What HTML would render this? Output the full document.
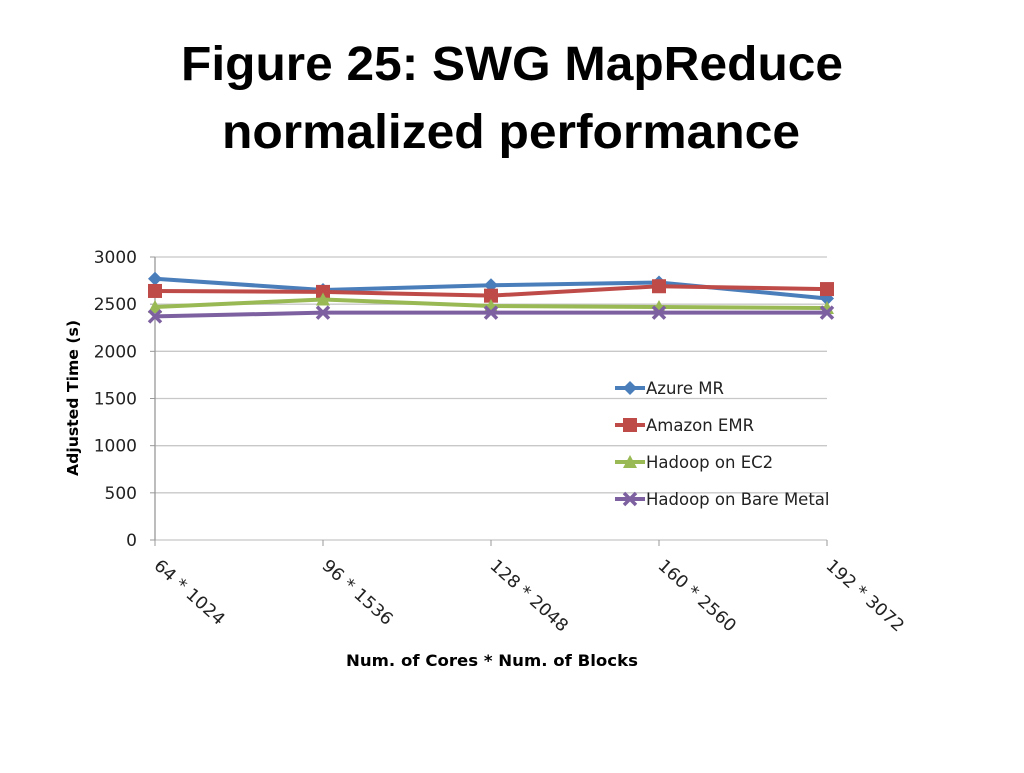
<!DOCTYPE html>
<html><head><meta charset="utf-8"><style>
body{margin:0;background:#fff;width:1024px;height:768px;overflow:hidden}
svg text{font-family:"DejaVu Sans","Liberation Sans",sans-serif}
svg text.t{font-family:"Liberation Sans",sans-serif}
</style></head><body>
<svg id="chart" width="1024" height="768">
<text class="t" x="181" y="80" textLength="662" lengthAdjust="spacingAndGlyphs" font-size="48" font-weight="bold">Figure 25:  SWG MapReduce</text>
<text class="t" x="222" y="148" textLength="578" lengthAdjust="spacingAndGlyphs" font-size="48" font-weight="bold">normalized performance</text>
<g id="grid"></g><g id="axes"></g><g id="series"></g><g id="legend"></g>
<text transform="translate(78,398) rotate(-90)" text-anchor="middle" textLength="156" lengthAdjust="spacingAndGlyphs" font-size="15" font-weight="bold">Adjusted Time (s)</text>
<text x="346" y="666" textLength="292" lengthAdjust="spacingAndGlyphs" font-size="16" font-weight="bold">Num. of Cores * Num. of Blocks</text>
</svg>
<script>
const categories=["64 * 1024","96 * 1536","128 * 2048","160 * 2560","192 * 3072"];
const yTicks=[0,500,1000,1500,2000,2500,3000];
const azure=[2770,2650,2700,2730,2560];
const amazon=[2640,2630,2590,2690,2660];
const ec2=[2470,2550,2480,2470,2460];
const bare=[2370,2410,2410,2410,2410];
const seriesNames=["Azure MR","Amazon EMR","Hadoop on EC2","Hadoop on Bare Metal"];
const NS="http://www.w3.org/2000/svg";
const x0=155,x1=827,y0=540,y1=257;
const xs=i=>x0+i*(x1-x0)/(categories.length-1);
const ys=v=>y0-(v/3000)*(y0-y1);
function mk(t,a,p){const e=document.createElementNS(NS,t);for(const k in a)e.setAttribute(k,a[k]);p.appendChild(e);return e;}
const grid=document.getElementById('grid'),axes=document.getElementById('axes'),ser=document.getElementById('series'),leg=document.getElementById('legend');
yTicks.forEach(v=>{
 const l=mk('line',{x1:x0,x2:x1,y1:ys(v),y2:ys(v),stroke:'#c8c8c8','stroke-width':1.3},grid);
 
 
 const t=mk('text',{x:x0-18,y:ys(v)+6,'text-anchor':'end','font-size':17,fill:'#222'},axes);
 t.textContent=v;
 
 
 mk('line',{x1:x0-5,x2:x0,y1:ys(v),y2:ys(v),stroke:'#999'},axes);
});
mk('line',{x1:x0,x2:x0,y1:y1,y2:y0,stroke:'#999','stroke-width':1.3},axes);
categories.forEach((c,i)=>{
 mk('line',{x1:xs(i),x2:xs(i),y1:y0,y2:y0+6,stroke:'#999'},axes);
 const t=mk('text',{transform:`translate(${xs(i)-2},${y0+27}) rotate(42)`,'font-size':17,fill:'#222',textLength:c.length*9.8,lengthAdjust:'spacingAndGlyphs'},axes);
 t.textContent=c;
 
 
});
const colors=['#4a7ebb','#be4b48','#98b954','#7d60a0'];
function marker(k,x,y,g){
 if(k==0)mk('polygon',{points:`${x},${y-7} ${x+7},${y} ${x},${y+7} ${x-7},${y}`,fill:colors[0]},g);
 else if(k==1)mk('rect',{x:x-7,y:y-7,width:14,height:14,fill:colors[1]},g);
 else if(k==2)mk('polygon',{points:`${x},${y-7} ${x+7},${y+6} ${x-7},${y+6}`,fill:colors[2]},g);
 else{mk('path',{d:`M${x-6},${y-6}L${x+6},${y+6}M${x+6},${y-6}L${x-6},${y+6}`,stroke:colors[3],'stroke-width':3.5},g);}
}
[azure,amazon,ec2,bare].forEach((d,k)=>{
 const g=mk('g',{},ser);
 
 
 mk('polyline',{points:d.map((v,i)=>xs(i)+','+ys(v)).join(' '),fill:'none',stroke:colors[k],'stroke-width':4},g);
 d.forEach((v,i)=>marker(k,xs(i),ys(v),g));
 const ly=388+k*37;
 const lg=mk('g',{},leg);
 
 
 mk('line',{x1:615,x2:645,y1:ly,y2:ly,stroke:colors[k],'stroke-width':4},lg);
 marker(k,630,ly,lg);
 const t=mk('text',{x:646,y:ly+6,'font-size':16.5,fill:'#222'},lg);
 t.textContent=seriesNames[k];
});
</script>
</body></html>
